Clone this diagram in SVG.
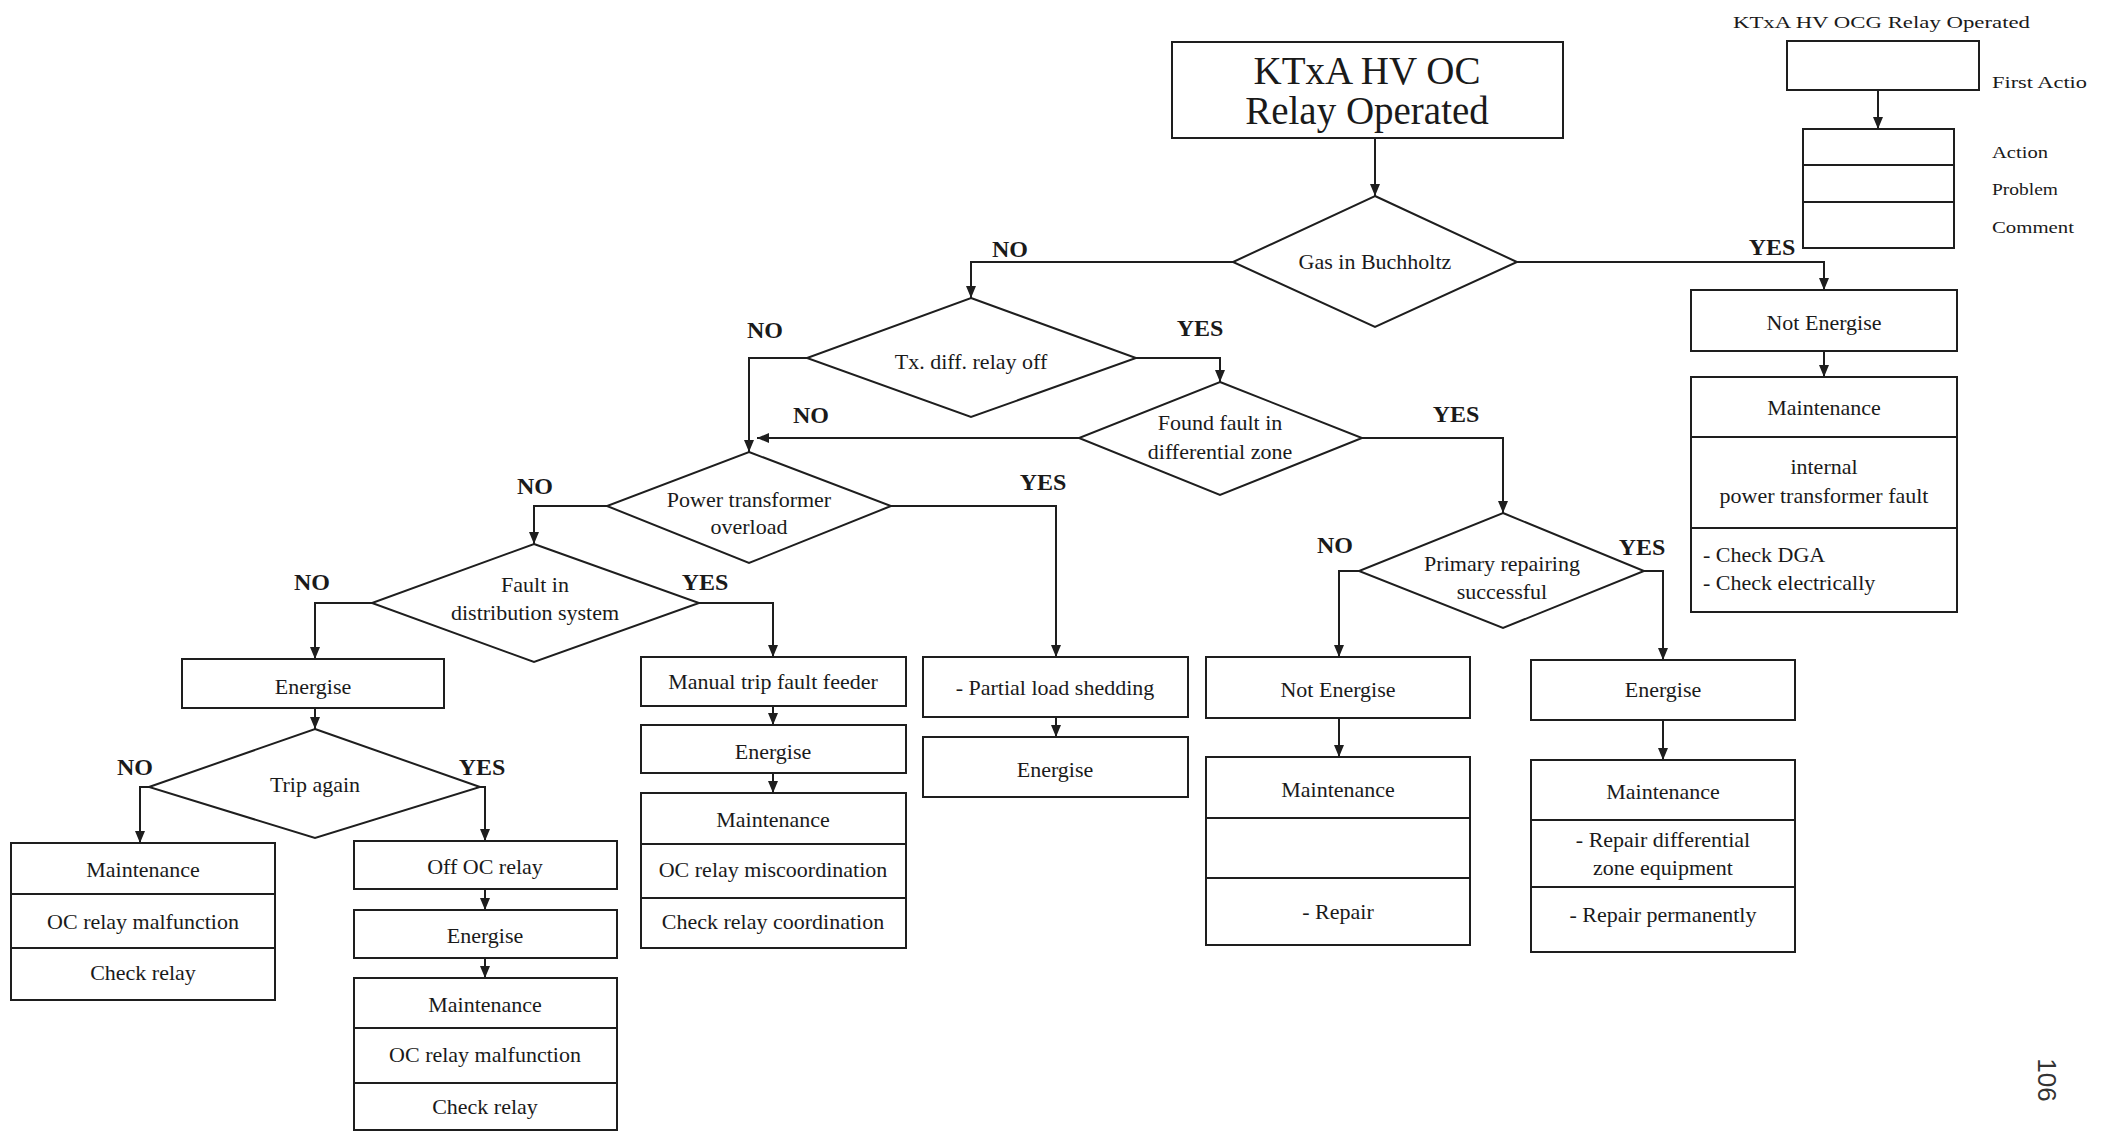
<svg xmlns="http://www.w3.org/2000/svg" width="2114" height="1132" viewBox="0 0 2114 1132">
<style>
  .bx{fill:#fff;stroke:#1e1e1e;stroke-width:2}
  .dv{stroke:#1e1e1e;stroke-width:2}
  .dm{fill:#fff;stroke:#1e1e1e;stroke-width:2}
  .t{font-family:"Liberation Serif","Times New Roman",serif;font-size:22px;fill:#1a1a1a;text-anchor:middle}
  .tl{font-family:"Liberation Serif","Times New Roman",serif;font-size:22px;fill:#1a1a1a}
  .lb{font-family:"Liberation Serif","Times New Roman",serif;font-size:24px;font-weight:bold;fill:#1a1a1a;text-anchor:middle}
  .lg{font-family:"Liberation Serif","Times New Roman",serif;font-size:17px;fill:#1a1a1a}
  .cn{fill:none;stroke:#1e1e1e;stroke-width:2;marker-end:url(#ah)}
</style>
<defs>
  <marker id="ah" viewBox="0 0 12 10" markerUnits="userSpaceOnUse" markerWidth="12" markerHeight="10" refX="12" refY="5" orient="auto">
    <path d="M0,0 L12,5 L0,10 z" fill="#1e1e1e"/>
  </marker>
</defs>
<rect width="2114" height="1132" fill="#fff"/>

<g id="connectors">
  <path class="cn" d="M1375,138 V196"/>
  <path class="cn" d="M1233,262 H971 V298"/>
  <path class="cn" d="M1517,262 H1824 V290"/>
  <path class="cn" d="M1824,351 V377"/>
  <path class="cn" d="M807,358 H749 V452"/>
  <path class="cn" d="M1136,358 H1220 V382"/>
  <path class="cn" d="M1079,438 H757"/>
  <path class="cn" d="M1362,438 H1503 V513"/>
  <path class="cn" d="M1359,571 H1339 V657"/>
  <path class="cn" d="M1644,571 H1663 V660"/>
  <path class="cn" d="M1339,718 V757"/>
  <path class="cn" d="M1663,720 V760"/>
  <path class="cn" d="M607,506 H534 V544"/>
  <path class="cn" d="M891,506 H1056 V657"/>
  <path class="cn" d="M1056,717 V737"/>
  <path class="cn" d="M372,603 H315 V659"/>
  <path class="cn" d="M699,603 H773 V657"/>
  <path class="cn" d="M773,706 V725"/>
  <path class="cn" d="M773,773 V793"/>
  <path class="cn" d="M315,708 V729"/>
  <path class="cn" d="M149,787 H140 V843"/>
  <path class="cn" d="M480,787 H485 V841"/>
  <path class="cn" d="M485,889 V910"/>
  <path class="cn" d="M485,958 V978"/>
  <path class="cn" d="M1878,90 V129"/>
</g>

<g id="labels">
  <text class="lb" x="1010" y="257">NO</text>
  <text class="lb" x="1772" y="255">YES</text>
  <text class="lb" x="765" y="338">NO</text>
  <text class="lb" x="1200" y="336">YES</text>
  <text class="lb" x="811" y="423">NO</text>
  <text class="lb" x="1456" y="422">YES</text>
  <text class="lb" x="1335" y="553">NO</text>
  <text class="lb" x="1642" y="555">YES</text>
  <text class="lb" x="535" y="494">NO</text>
  <text class="lb" x="1043" y="490">YES</text>
  <text class="lb" x="312" y="590">NO</text>
  <text class="lb" x="705" y="590">YES</text>
  <text class="lb" x="135" y="775">NO</text>
  <text class="lb" x="482" y="775">YES</text>
</g>

<g id="title">
  <rect class="bx" x="1172" y="42" width="391" height="96"/>
  <text class="t" x="1367" y="84" style="font-size:39px">KTxA HV OC</text>
  <text class="t" x="1367" y="124" style="font-size:39px">Relay Operated</text>
</g>

<g id="gas">
  <polygon class="dm" points="1375,196 1517,262 1375,327 1233,262"/>
  <text class="t" x="1375" y="269">Gas in Buchholtz</text>
</g>
<g id="txdiff">
  <polygon class="dm" points="971,298 1136,358 971,417 807,358"/>
  <text class="t" x="971" y="369">Tx. diff. relay off</text>
</g>
<g id="foundfault">
  <polygon class="dm" points="1220,382 1362,438 1220,495 1079,438"/>
  <text class="t" x="1220" y="430">Found fault in</text>
  <text class="t" x="1220" y="459">differential zone</text>
</g>
<g id="primary">
  <polygon class="dm" points="1503,513 1644,571 1503,628 1359,571"/>
  <text class="t" x="1502" y="571">Primary repairing</text>
  <text class="t" x="1502" y="599">successful</text>
</g>
<g id="ptoverload">
  <polygon class="dm" points="749,452 891,506 749,563 607,506"/>
  <text class="t" x="749" y="507">Power transformer</text>
  <text class="t" x="749" y="534">overload</text>
</g>
<g id="faultdist">
  <polygon class="dm" points="534,544 699,603 534,662 372,603"/>
  <text class="t" x="535" y="592">Fault in</text>
  <text class="t" x="535" y="620">distribution system</text>
</g>
<g id="tripagain">
  <polygon class="dm" points="315,729 480,787 315,838 149,787"/>
  <text class="t" x="315" y="792">Trip again</text>
</g>

<g id="notenergise-r">
  <rect class="bx" x="1691" y="290" width="266" height="61"/>
  <text class="t" x="1824" y="330">Not Energise</text>
</g>
<g id="maint-r">
  <rect class="bx" x="1691" y="377" width="266" height="235"/>
  <line class="dv" x1="1691" y1="437" x2="1957" y2="437"/>
  <line class="dv" x1="1691" y1="528" x2="1957" y2="528"/>
  <text class="t" x="1824" y="415">Maintenance</text>
  <text class="t" x="1824" y="474">internal</text>
  <text class="t" x="1824" y="503">power transformer fault</text>
  <text class="tl" x="1703" y="562">- Check  DGA</text>
  <text class="tl" x="1703" y="590">- Check electrically</text>
</g>

<g id="notenergise-m">
  <rect class="bx" x="1206" y="657" width="264" height="61"/>
  <text class="t" x="1338" y="697">Not Energise</text>
</g>
<g id="maint-m">
  <rect class="bx" x="1206" y="757" width="264" height="188"/>
  <line class="dv" x1="1206" y1="818" x2="1470" y2="818"/>
  <line class="dv" x1="1206" y1="878" x2="1470" y2="878"/>
  <text class="t" x="1338" y="797">Maintenance</text>
  <text class="t" x="1338" y="919">- Repair</text>
</g>

<g id="energise-r">
  <rect class="bx" x="1531" y="660" width="264" height="60"/>
  <text class="t" x="1663" y="697">Energise</text>
</g>
<g id="maint-rr">
  <rect class="bx" x="1531" y="760" width="264" height="192"/>
  <line class="dv" x1="1531" y1="820" x2="1795" y2="820"/>
  <line class="dv" x1="1531" y1="887" x2="1795" y2="887"/>
  <text class="t" x="1663" y="799">Maintenance</text>
  <text class="t" x="1663" y="847">- Repair differential</text>
  <text class="t" x="1663" y="875">zone equipment</text>
  <text class="t" x="1663" y="922">- Repair permanently</text>
</g>

<g id="partial">
  <rect class="bx" x="923" y="657" width="265" height="60"/>
  <text class="t" x="1055" y="695">- Partial load shedding</text>
</g>
<g id="energise-p">
  <rect class="bx" x="923" y="737" width="265" height="60"/>
  <text class="t" x="1055" y="777">Energise</text>
</g>

<g id="manualtrip">
  <rect class="bx" x="641" y="657" width="265" height="49"/>
  <text class="t" x="773" y="689">Manual trip fault feeder</text>
</g>
<g id="energise-mt">
  <rect class="bx" x="641" y="725" width="265" height="48"/>
  <text class="t" x="773" y="759">Energise</text>
</g>
<g id="maint-mt">
  <rect class="bx" x="641" y="793" width="265" height="155"/>
  <line class="dv" x1="641" y1="844" x2="906" y2="844"/>
  <line class="dv" x1="641" y1="898" x2="906" y2="898"/>
  <text class="t" x="773" y="827">Maintenance</text>
  <text class="t" x="773" y="877">OC relay miscoordination</text>
  <text class="t" x="773" y="929">Check relay coordination</text>
</g>

<g id="energise-l">
  <rect class="bx" x="182" y="659" width="262" height="49"/>
  <text class="t" x="313" y="694">Energise</text>
</g>
<g id="maint-l">
  <rect class="bx" x="11" y="843" width="264" height="157"/>
  <line class="dv" x1="11" y1="894" x2="275" y2="894"/>
  <line class="dv" x1="11" y1="948" x2="275" y2="948"/>
  <text class="t" x="143" y="877">Maintenance</text>
  <text class="t" x="143" y="929">OC relay  malfunction</text>
  <text class="t" x="143" y="980">Check relay</text>
</g>

<g id="offoc">
  <rect class="bx" x="354" y="841" width="263" height="48"/>
  <text class="t" x="485" y="874">Off  OC relay</text>
</g>
<g id="energise-oc">
  <rect class="bx" x="354" y="910" width="263" height="48"/>
  <text class="t" x="485" y="943">Energise</text>
</g>
<g id="maint-oc">
  <rect class="bx" x="354" y="978" width="263" height="152"/>
  <line class="dv" x1="354" y1="1028" x2="617" y2="1028"/>
  <line class="dv" x1="354" y1="1083" x2="617" y2="1083"/>
  <text class="t" x="485" y="1012">Maintenance</text>
  <text class="t" x="485" y="1062">OC relay  malfunction</text>
  <text class="t" x="485" y="1114">Check relay</text>
</g>

<g id="legend">
  <text class="lg" x="1733" y="28" textLength="297" lengthAdjust="spacingAndGlyphs">KTxA HV OCG Relay Operated</text>
  <rect class="bx" x="1787" y="41" width="192" height="49"/>
  <rect class="bx" x="1803" y="129" width="151" height="119"/>
  <line class="dv" x1="1803" y1="165" x2="1954" y2="165"/>
  <line class="dv" x1="1803" y1="202" x2="1954" y2="202"/>
  <text class="lg" x="1992" y="88" textLength="95" lengthAdjust="spacingAndGlyphs">First Actio</text>
  <text class="lg" x="1992" y="158" textLength="56" lengthAdjust="spacingAndGlyphs">Action</text>
  <text class="lg" x="1992" y="195" textLength="66" lengthAdjust="spacingAndGlyphs">Problem</text>
  <text class="lg" x="1992" y="233" textLength="82" lengthAdjust="spacingAndGlyphs">Comment</text>
</g>

<g id="pagenum">
  <text x="0" y="0" transform="translate(2038,1080) rotate(90)" style="font-family:'Liberation Sans',Arial,sans-serif;font-size:26px;fill:#333;text-anchor:middle">106</text>
</g>
</svg>
